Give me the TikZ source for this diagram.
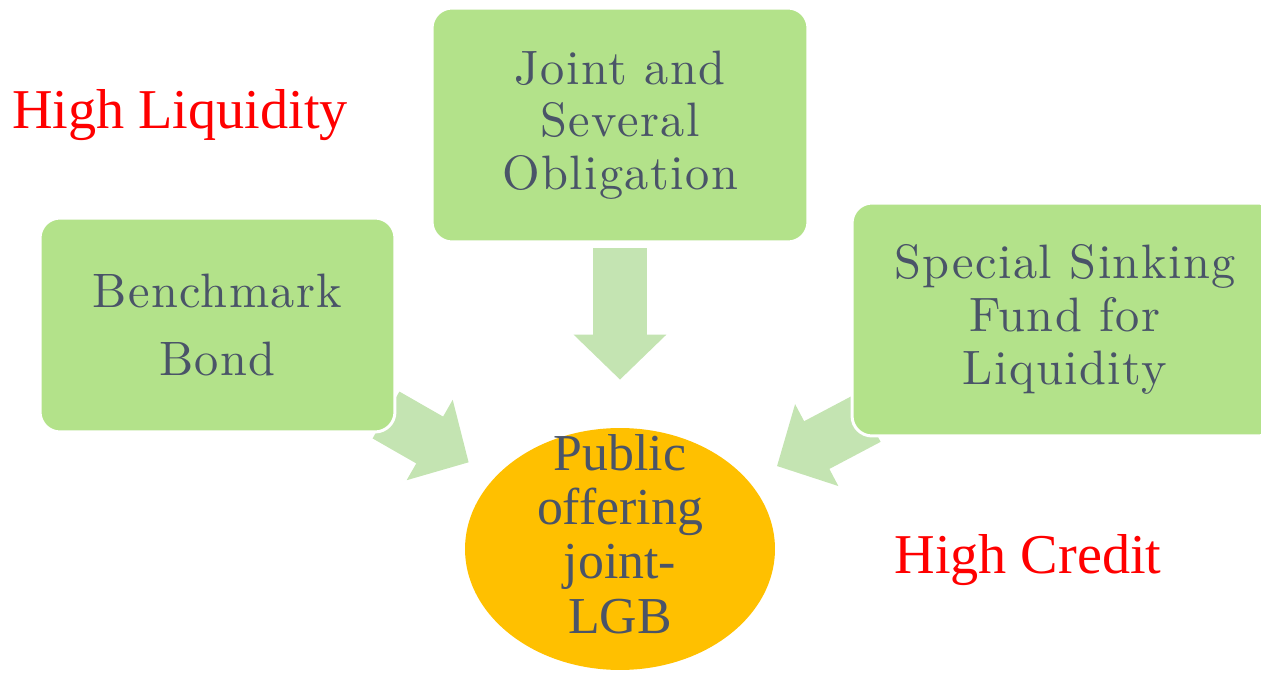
\documentclass[tikz,border=0pt]{standalone}
\usepackage{fontspec}
\setmainfont{Liberation Serif}
\newfontfamily\boxfont{lmroman10-regular.otf}[LetterSpace=3]
\usetikzlibrary{arrows.meta,shapes.geometric,backgrounds}
\definecolor{boxgreen}{RGB}{179,226,138}
\definecolor{arrowgreen}{RGB}{196,228,178}
\definecolor{lgbgold}{RGB}{255,192,0}
\definecolor{inkblue}{RGB}{74,84,104}
\definecolor{hired}{RGB}{255,0,0}
\begin{document}
\begin{tikzpicture}[x=0.02cm,y=-0.02cm,
  greenbox/.style={rectangle,rounded corners=0.4cm,fill=boxgreen,draw=white,line width=0.06cm,
    align=center,text=inkblue,font=\boxfont\fontsize{27.5}{30}\selectfont},
  blockarrow/.style={draw=arrowgreen,line width=1.08cm,-{Triangle[length=0.9cm,width=1.8cm]}},
  redlabel/.style={text=hired,font=\fontsize{32}{36}\selectfont}]
  \useasboundingbox (0,0) rectangle (1261,675);
  \node[greenbox,minimum width=7.52cm,minimum height=4.68cm] (joint) at (620,125) {Joint and\\Several\\Obligation};
  \node[greenbox,minimum width=7.1cm,minimum height=4.28cm] (bench) at (217.5,325) {Benchmark\\[0.32cm]Bond};
  \node[greenbox,minimum width=8.52cm,minimum height=4.66cm] (sink) at (1065,319.5) {Special Sinking\\Fund for\\Liquidity};
  \node[ellipse,fill=lgbgold,minimum width=6.2cm,minimum height=4.84cm,inner sep=0pt] (lgb) at (620,549) {};
  \node[align=center,text=inkblue,font=\fontsize{29.5}{31}\selectfont] (lgbtext) at (620,534) {Public\\offering\\joint-\\LGB};
  \node[redlabel] (liq) at (180,115) {High Liquidity};
  \node[redlabel] (cred) at (1028,560) {High Credit};
  \coordinate (btail) at (386,415);
  \coordinate (stail) at (868,418);
  \begin{scope}[on background layer]
    \draw[blockarrow,shorten <=0.1cm,shorten >=0.96cm] (joint) -- (lgb);
    \draw[blockarrow,shorten >=0.6cm] (btail) -- (lgb);
    \draw[blockarrow,shorten >=0.64cm] (stail) -- (lgb);
  \end{scope}
\end{tikzpicture}
\end{document}
